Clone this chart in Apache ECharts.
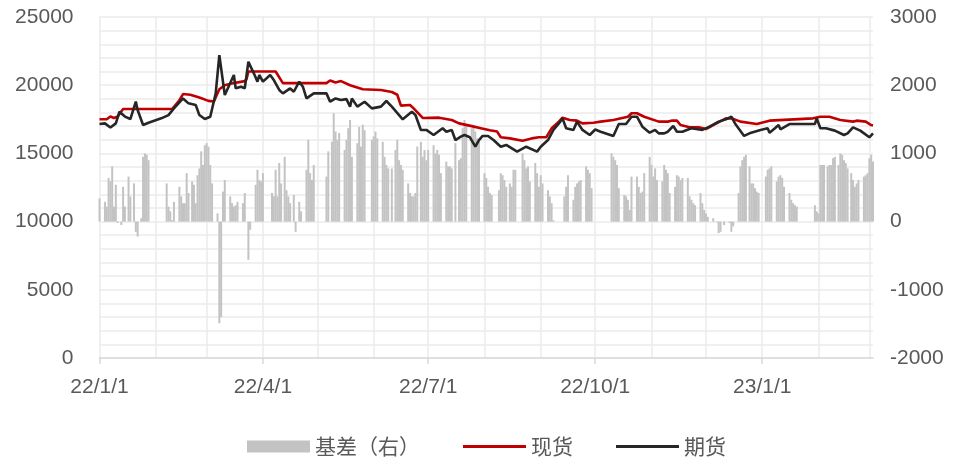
<!DOCTYPE html>
<html>
<head>
<meta charset="utf-8">
<script src="https://cdn.jsdelivr.net/npm/echarts@6/dist/echarts.min.js"></script>
<style>
  html, body { margin: 0; padding: 0; background: #fff; }
  #chart { width: 953px; height: 461px; }
</style>
</head>
<body>
<div id="chart"></div>
<script>
// Calendar span of the date axis
const axisStart = '2022-01-01';
const axisEnd = '2023-03-03';

// Quarter-start tick labels shown on the date axis
const tickLabels = ['22/1/1', '22/4/1', '22/7/1', '22/10/1', '23/1/1'];

// Legend names
const seriesNames = ['基差（右）', '现货', '期货'];

// 现货 (spot price)
const spotDates = [
  '2022-01-01','2022-01-05','2022-01-07','2022-01-09','2022-01-11','2022-01-14','2022-02-10','2022-02-14',
  '2022-02-16','2022-02-20','2022-02-25','2022-03-02','2022-03-05','2022-03-08','2022-03-11','2022-03-14',
  '2022-03-22','2022-03-23','2022-03-24','2022-04-08','2022-04-12','2022-05-06','2022-05-08','2022-05-11',
  '2022-05-14','2022-05-19','2022-05-26','2022-06-05','2022-06-11','2022-06-14','2022-06-16','2022-06-21',
  '2022-06-23','2022-06-28','2022-07-07','2022-07-14','2022-07-18','2022-07-25','2022-07-30','2022-08-04',
  '2022-08-08','2022-08-10','2022-08-15','2022-08-22','2022-08-27','2022-08-31','2022-09-04','2022-09-07',
  '2022-09-11','2022-09-13','2022-09-17','2022-09-21','2022-09-24','2022-09-30','2022-10-04','2022-10-11',
  '2022-10-19','2022-10-21','2022-10-24','2022-10-28','2022-11-05','2022-11-10','2022-11-12','2022-11-15',
  '2022-11-17','2022-11-22','2022-11-27','2022-12-01','2022-12-06','2022-12-12','2022-12-15','2022-12-20',
  '2022-12-29','2023-01-05','2023-01-29','2023-02-02','2023-02-07','2023-02-13','2023-02-20','2023-02-22',
  '2023-02-27','2023-03-02','2023-03-03'
];
const spotPrice = [
  17500,17500,17700,17600,17700,18250,18250,18900,
  19350,19300,19100,18850,18800,19700,20000,20100,
  20300,20450,21000,21000,20150,20150,20350,20200,
  20300,20000,19700,19650,19500,19300,18500,18550,
  18300,17600,17620,17450,17200,17000,16850,16700,
  16600,16180,16100,15930,16100,16180,16180,16840,
  17330,17620,17450,17400,17200,17250,17330,17450,
  17690,17940,17940,17690,17330,17330,17400,17400,
  17080,16910,16910,16790,17150,17570,17570,17330,
  17150,17400,17570,17690,17690,17450,17330,17400,
  17330,17080,17050
];

// 期货 (futures price)
const futuresDates = [
  '2022-01-01','2022-01-04','2022-01-07','2022-01-10','2022-01-12','2022-01-15','2022-01-18','2022-01-21',
  '2022-01-22','2022-01-25','2022-01-28','2022-02-04','2022-02-08','2022-02-11','2022-02-16','2022-02-19',
  '2022-02-23','2022-02-25','2022-02-28','2022-03-03','2022-03-06','2022-03-08','2022-03-11','2022-03-16',
  '2022-03-17','2022-03-20','2022-03-22','2022-03-24','2022-03-27','2022-03-29','2022-03-30','2022-04-01',
  '2022-04-05','2022-04-07','2022-04-10','2022-04-12','2022-04-16','2022-04-18','2022-04-21','2022-04-23',
  '2022-04-25','2022-04-29','2022-05-06','2022-05-08','2022-05-11','2022-05-14','2022-05-17','2022-05-19',
  '2022-05-20','2022-05-23','2022-05-27','2022-05-31','2022-06-05','2022-06-08','2022-06-11','2022-06-15',
  '2022-06-17','2022-06-22','2022-06-24','2022-06-27','2022-06-30','2022-07-04','2022-07-09','2022-07-11',
  '2022-07-14','2022-07-16','2022-07-19','2022-07-21','2022-07-24','2022-07-27','2022-07-29','2022-07-31',
  '2022-08-03','2022-08-06','2022-08-10','2022-08-13','2022-08-19','2022-08-24','2022-08-30','2022-09-01',
  '2022-09-05','2022-09-08','2022-09-11','2022-09-13','2022-09-15','2022-09-19','2022-09-21','2022-09-24',
  '2022-09-28','2022-10-01','2022-10-04','2022-10-11','2022-10-14','2022-10-18','2022-10-21','2022-10-24',
  '2022-10-27','2022-10-31','2022-11-03','2022-11-05','2022-11-08','2022-11-10','2022-11-13','2022-11-15',
  '2022-11-18','2022-11-23','2022-11-29','2022-12-03','2022-12-08','2022-12-12','2022-12-15','2022-12-17',
  '2022-12-22','2022-12-25','2022-12-31','2023-01-04','2023-01-05','2023-01-08','2023-01-10','2023-01-11',
  '2023-01-16','2023-01-30','2023-01-31','2023-02-02','2023-02-05','2023-02-10','2023-02-15','2023-02-17',
  '2023-02-20','2023-02-24','2023-03-01','2023-03-03'
];
const futuresPrice = [
  17150,17200,16900,17200,18060,17700,17520,18800,
  18180,17080,17250,17570,17810,18300,19030,18670,
  18550,17810,17520,17690,19400,22200,19280,20750,
  19770,19890,19770,21720,20870,20260,20750,20260,
  20750,20380,19650,19400,19770,19520,20260,19890,
  19030,19400,19400,18790,19030,18910,18980,18430,
  19030,18430,18790,18300,18430,18840,18430,17810,
  17500,18060,17810,16720,16720,16350,16840,16590,
  16720,15980,16230,16350,16180,15490,15980,16280,
  16280,15980,15490,15620,15130,15490,15130,15490,
  15980,16720,17200,17570,16840,16720,17330,16720,
  16350,16750,16590,16280,17150,17150,17690,17690,
  16960,16520,16720,16470,16470,16590,17010,16590,
  16590,16840,16720,16960,17330,17500,17690,17200,
  16280,16470,16720,16840,16520,16840,17080,16770,
  17150,17150,17570,16840,16840,16670,16350,16470,
  16910,16670,16180,16470
];

// 基差 (basis, right axis)
const basisDates = [
  '2022-01-01','2022-01-04','2022-01-05','2022-01-06','2022-01-07','2022-01-08','2022-01-09','2022-01-10',
  '2022-01-11','2022-01-13','2022-01-14','2022-01-15','2022-01-17','2022-01-18','2022-01-20','2022-01-21',
  '2022-01-22','2022-01-24','2022-01-25','2022-01-26','2022-01-27','2022-01-28',
  '2022-02-07','2022-02-08','2022-02-09','2022-02-10','2022-02-11','2022-02-14','2022-02-15','2022-02-16',
  '2022-02-17','2022-02-18','2022-02-19','2022-02-21','2022-02-22','2022-02-23','2022-02-24','2022-02-25',
  '2022-02-26','2022-02-27','2022-02-28',
  '2022-03-01','2022-03-02','2022-03-03','2022-03-04','2022-03-07','2022-03-08','2022-03-09','2022-03-10',
  '2022-03-11','2022-03-14','2022-03-15','2022-03-16','2022-03-17','2022-03-18','2022-03-21','2022-03-22',
  '2022-03-24','2022-03-25','2022-03-28','2022-03-29','2022-03-30','2022-03-31',
  '2022-04-01','2022-04-06','2022-04-07','2022-04-08','2022-04-09','2022-04-10','2022-04-11','2022-04-13',
  '2022-04-14','2022-04-15','2022-04-16','2022-04-18','2022-04-19','2022-04-21','2022-04-22','2022-04-25',
  '2022-04-26','2022-04-27','2022-04-28','2022-04-29',
  '2022-05-06','2022-05-07','2022-05-09','2022-05-10','2022-05-11','2022-05-12','2022-05-13','2022-05-16',
  '2022-05-17','2022-05-18','2022-05-19','2022-05-20','2022-05-23','2022-05-24','2022-05-25','2022-05-26',
  '2022-05-27','2022-05-31',
  '2022-06-01','2022-06-02','2022-06-03','2022-06-06','2022-06-07','2022-06-08','2022-06-09','2022-06-11',
  '2022-06-13','2022-06-14','2022-06-15','2022-06-16','2022-06-17','2022-06-20','2022-06-21','2022-06-22',
  '2022-06-23','2022-06-24','2022-06-25','2022-06-27','2022-06-28','2022-06-29','2022-06-30',
  '2022-07-01','2022-07-04','2022-07-05','2022-07-06','2022-07-07','2022-07-08','2022-07-11','2022-07-12',
  '2022-07-13','2022-07-14','2022-07-16','2022-07-18','2022-07-19','2022-07-20','2022-07-21','2022-07-22',
  '2022-07-25','2022-07-26','2022-07-27','2022-07-28','2022-07-29',
  '2022-08-01','2022-08-02','2022-08-03','2022-08-04','2022-08-05','2022-08-09','2022-08-10','2022-08-11',
  '2022-08-12','2022-08-13','2022-08-15','2022-08-16','2022-08-17','2022-08-18','2022-08-22','2022-08-23',
  '2022-08-24','2022-08-25','2022-08-26','2022-08-29','2022-08-30','2022-08-31',
  '2022-09-01','2022-09-02','2022-09-05','2022-09-06','2022-09-07','2022-09-08','2022-09-14','2022-09-15',
  '2022-09-16','2022-09-19','2022-09-20','2022-09-21','2022-09-22','2022-09-23','2022-09-26','2022-09-27',
  '2022-09-28','2022-09-29',
  '2022-10-10','2022-10-11','2022-10-12','2022-10-13','2022-10-14','2022-10-17','2022-10-18','2022-10-19',
  '2022-10-20','2022-10-21','2022-10-24','2022-10-25','2022-10-26','2022-10-27','2022-10-28','2022-10-31',
  '2022-11-01','2022-11-02','2022-11-03','2022-11-04','2022-11-07','2022-11-08','2022-11-09','2022-11-10',
  '2022-11-11','2022-11-14','2022-11-15','2022-11-16','2022-11-17','2022-11-18','2022-11-21','2022-11-22',
  '2022-11-23','2022-11-24','2022-11-25','2022-11-28','2022-11-29','2022-11-30',
  '2022-12-01','2022-12-02','2022-12-05','2022-12-07','2022-12-08','2022-12-09','2022-12-11','2022-12-14',
  '2022-12-15','2022-12-16','2022-12-19','2022-12-20','2022-12-21','2022-12-22','2022-12-23','2022-12-25',
  '2022-12-26','2022-12-27','2022-12-28','2022-12-29','2022-12-30',
  '2023-01-03','2023-01-04','2023-01-05','2023-01-06','2023-01-09','2023-01-10','2023-01-11','2023-01-12',
  '2023-01-13','2023-01-16','2023-01-17','2023-01-18','2023-01-19','2023-01-20','2023-01-30','2023-01-31',
  '2023-02-01','2023-02-02','2023-02-03','2023-02-04','2023-02-06','2023-02-07','2023-02-08','2023-02-09',
  '2023-02-10','2023-02-12','2023-02-13','2023-02-14','2023-02-15','2023-02-16','2023-02-17','2023-02-19',
  '2023-02-20','2023-02-21','2023-02-22','2023-02-23','2023-02-26','2023-02-27','2023-02-28',
  '2023-03-01','2023-03-02','2023-03-03'
];
const basisValues = [
  340,290,220,640,590,810,220,540,
  -20,-50,510,220,660,370,560,-150,
  -220,50,950,1000,980,900,
  560,220,150,20,290,510,370,270,
  270,710,420,590,540,270,680,780,
  1030,830,1120,
  1150,1100,830,560,120,-1490,-1400,440,
  610,370,270,220,240,290,270,420,
  -560,-120,540,760,610,590,
  710,420,370,760,370,860,560,950,
  460,370,270,390,-150,290,150,760,
  1200,710,610,830,
  660,1030,1170,1590,1320,1200,1300,1050,
  1200,1370,1490,950,1150,1390,1100,1420,
  1340,1200,
  1250,1320,1220,1170,950,830,780,780,
  1050,1200,900,830,760,560,420,370,
  370,420,1100,1170,950,1050,900,
  1050,1120,1000,1050,980,710,880,810,
  810,780,1150,900,930,1370,1490,1420,
  1370,1390,1320,1220,1200,
  710,640,510,420,390,460,710,680,
  610,510,560,510,760,760,1000,900,
  780,810,590,860,710,510,
  680,560,460,370,270,20,370,510,
  680,320,510,560,590,610,810,760,
  710,490,
  1000,950,900,830,490,390,370,320,
  170,660,660,510,420,440,710,950,
  830,660,780,610,590,830,760,710,
  420,510,680,660,610,640,640,370,
  320,270,240,420,270,170,
  120,70,50,-10,-170,-150,-50,-20,
  -150,-70,420,810,900,950,980,810,
  560,560,490,440,420,
  660,760,780,810,590,660,680,640,
  510,420,320,270,240,220,240,150,
  120,830,830,830,810,830,830,930,
  950,830,1000,980,900,860,780,710,
  610,510,560,610,660,680,710,
  930,980,880
];

// Build one category per calendar day so that months keep their true widths
function buildDays(start, end) {
  const out = [];
  const d = new Date(start + 'T00:00:00Z');
  const last = new Date(end + 'T00:00:00Z');
  while (d <= last) {
    out.push(d.toISOString().slice(0, 10));
    d.setUTCDate(d.getUTCDate() + 1);
  }
  return out;
}
const days = buildDays(axisStart, axisEnd);
const dayIndex = {};
days.forEach((s, i) => { dayIndex[s] = i; });

function shortLabel(s) {
  const [y, m, d] = s.split('-');
  return y.slice(2) + '/' + (+m) + '/' + (+d);
}
const isQuarterStart = (i, s) => tickLabels.indexOf(shortLabel(s)) !== -1;
const isMonthStart = (i, s) => s.slice(8) === '01';

const pair = (dates, vals) => dates.map((s, i) => [dayIndex[s], vals[i]]);

const textColor = '#595959';
const gridColor = '#ebebeb';
const latin = '"Liberation Sans", Arial, sans-serif';
const cjk = '"Noto Sans CJK SC", "Liberation Sans", sans-serif';
// flat bar used as the legend mark of the two price lines
const lineIcon = 'path://M0,0H63V3H0Z';

const chart = echarts.init(document.getElementById('chart'), null, { renderer: 'canvas' });
chart.setOption({
  animation: false,
  backgroundColor: '#ffffff',
  grid: { left: 99.5, right: 80, top: 17, bottom: 103 },
  legend: {
    left: 247,
    top: 436,
    padding: 0,
    itemGap: 43,
    itemWidth: 63,
    itemHeight: 12,
    textStyle: { color: textColor, fontSize: 21, fontFamily: cjk },
    data: [
      { name: seriesNames[0], icon: 'rect' },
      { name: seriesNames[1], icon: lineIcon },
      { name: seriesNames[2], icon: lineIcon }
    ]
  },
  xAxis: {
    type: 'category',
    data: days,
    boundaryGap: false,
    axisLine: { lineStyle: { color: '#d9d9d9', width: 1.5 } },
    axisTick: { interval: isQuarterStart, length: 6, lineStyle: { color: '#d9d9d9', width: 1.5 } },
    axisLabel: {
      interval: isQuarterStart,
      formatter: shortLabel,
      margin: 19,
      color: textColor,
      fontSize: 21,
      fontFamily: latin
    },
    splitLine: { show: true, interval: isMonthStart, lineStyle: { color: gridColor, width: 1.5 } }
  },
  yAxis: [
    {
      type: 'value',
      min: 0,
      max: 25000,
      interval: 1000,
      axisLine: { show: false },
      axisTick: { show: false },
      axisLabel: {
        formatter: v => (v % 5000 === 0 ? String(v) : ''),
        margin: 26,
        color: textColor,
        fontSize: 21,
        fontFamily: latin
      },
      splitLine: { lineStyle: { color: gridColor, width: 1.5 } }
    },
    {
      type: 'value',
      min: -2000,
      max: 3000,
      interval: 1000,
      position: 'right',
      axisLine: { show: false },
      axisTick: { show: false },
      axisLabel: {
        formatter: v => String(v),
        margin: 17,
        align: 'left',
        color: textColor,
        fontSize: 21,
        fontFamily: latin
      },
      splitLine: { show: false }
    }
  ],
  series: [
    {
      name: seriesNames[0],
      type: 'bar',
      yAxisIndex: 1,
      barWidth: 2,
      itemStyle: { color: '#c3c3c3' },
      data: pair(basisDates, basisValues)
    },
    {
      name: seriesNames[1],
      type: 'line',
      yAxisIndex: 0,
      symbol: 'none',
      lineStyle: { color: '#c00000', width: 2.6 },
      itemStyle: { color: '#c00000' },
      data: pair(spotDates, spotPrice)
    },
    {
      name: seriesNames[2],
      type: 'line',
      yAxisIndex: 0,
      symbol: 'none',
      lineStyle: { color: '#262626', width: 2.6 },
      itemStyle: { color: '#262626' },
      data: pair(futuresDates, futuresPrice)
    }
  ]
});
</script>
</body>
</html>
